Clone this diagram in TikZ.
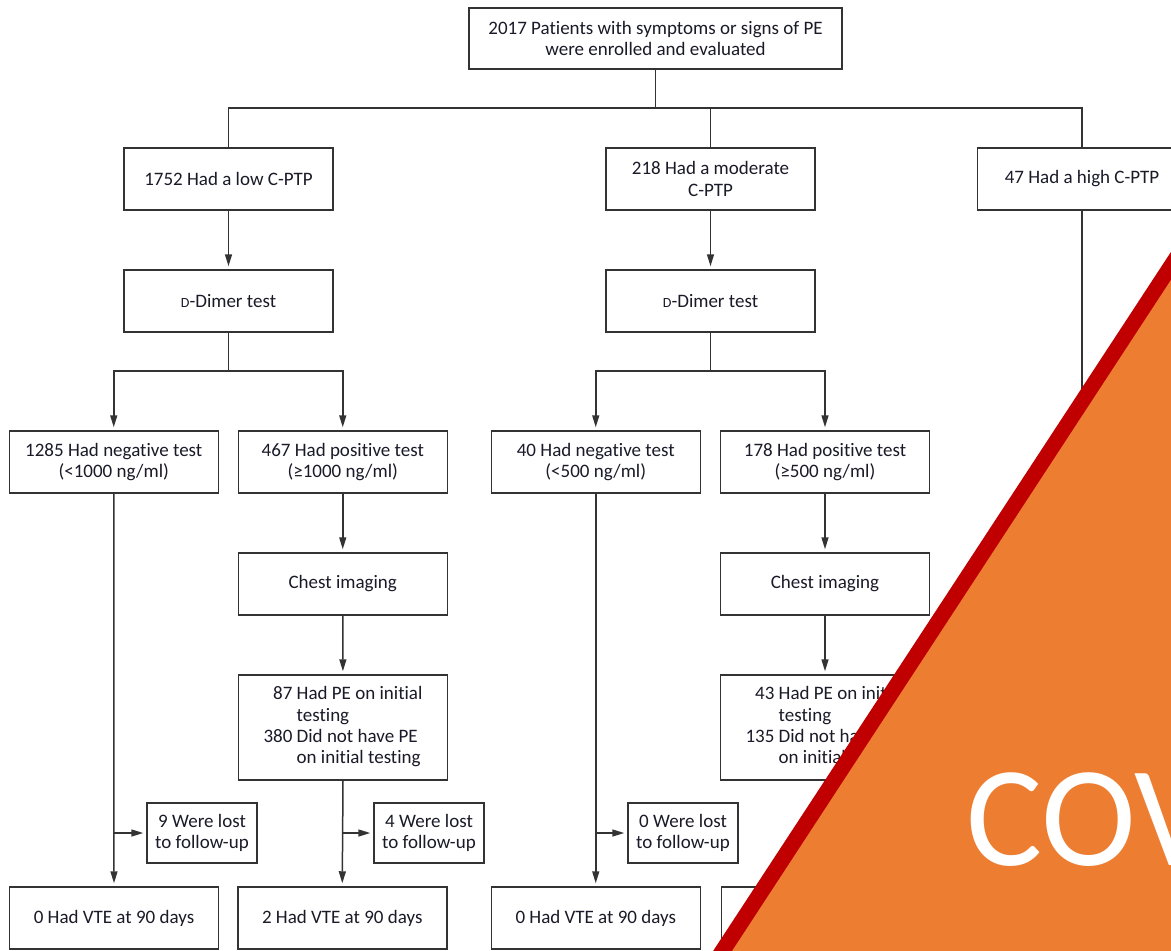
\documentclass[tikz,border=0pt]{standalone}
\usepackage{fontspec}
\newfontfamily\carlito[Ligatures=NoCommon]{Carlito}
\usetikzlibrary{arrows.meta}
\definecolor{ink}{HTML}{1A1A28}
\definecolor{rule}{HTML}{333333}
\definecolor{bandred}{HTML}{C00000}
\definecolor{coverorange}{HTML}{ED7D31}
\newcommand{\smD}{{\fontsize{14}{14}\selectfont D}}
\begin{document}
\begin{tikzpicture}[x=1pt,y=-1pt,
  box/.style={draw=rule, line width=1.5pt, fill=white, inner sep=0pt,
    minimum height=62pt, align=center, text=ink,
    font=\carlito\fontsize{19}{21.3}\selectfont},
  wide/.style={minimum width=209pt},
  lostbox/.style={box, minimum width=110pt, minimum height=60pt},
  link/.style={draw=rule, line width=1.5pt},
  arr/.style={link, -{Triangle[length=12pt,width=7pt]}, shorten >=3pt}
]
\useasboundingbox (0,0) rectangle (1171,951);
\clip (0,0) rectangle (1171,951);

% ---- boxes ----
\node[box, minimum width=373pt, minimum height=61pt] (top) at (655.5,38.5)
  {2017 Patients with symptoms or signs of PE\\were enrolled and evaluated};

\node[box, wide] (low)  at (228.5,179) {1752 Had a low C-PTP};
\node[box, wide] (mod)  at (710.5,179) {218 Had a moderate\\C-PTP};
\node[box, wide] (high) at (1082,179)  {47 Had a high C-PTP};

\node[box, wide] (dda) at (228.5,301) {\smD-Dimer test};
\node[box, wide] (ddb) at (710.5,301) {\smD-Dimer test};

\node[box, wide] (nega) at (113.75,462) {1285 Had negative test\\(<1000 ng/ml)};
\node[box, wide] (posa) at (342.75,462) {467 Had positive test\\(≥1000 ng/ml)};
\node[box, wide] (negb) at (595.75,462) {40 Had negative test\\(<500 ng/ml)};
\node[box, wide] (posb) at (825,462)    {178 Had positive test\\(≥500 ng/ml)};

\node[box, wide] (cia) at (342.75,584) {Chest imaging};
\node[box, wide] (cib) at (825,584)    {Chest imaging};

\node[box, wide, minimum height=105pt] (pea) at (343,727.5)
  {\begin{tabular}{@{}r@{ }l@{}}87 & Had PE on initial\\ & testing\\380 & Did not have PE\\ & on initial testing\end{tabular}};
\node[box, wide, minimum height=105pt] (peb) at (825,727.5)
  {\begin{tabular}{@{}r@{ }l@{}}43 & Had PE on initial\\ & testing\\135 & Did not have PE\\ & on initial testing\end{tabular}};

\node[lostbox] (losta) at (202,833) {9 Were lost\\to follow-up};
\node[lostbox] (lostb) at (429,833) {4 Were lost\\to follow-up};
\node[lostbox] (lostc) at (683,833) {0 Were lost\\to follow-up};

\node[box, wide] (vtea) at (114,918)    {0 Had VTE at 90 days};
\node[box, wide] (vteb) at (342.25,918) {2 Had VTE at 90 days};
\node[box, wide] (vtec) at (595.75,918) {0 Had VTE at 90 days};
\node[box, wide] (vted) at (826,918)    {};

% ---- connectors ----
\coordinate (bus) at (229,108);
\draw[link] (top.south) -- (top.south |- bus);
\draw[link] (low.north) -- (low.north |- bus) -- (high.north |- bus) -- (high.north);
\draw[link] (mod.north) -- (mod.north |- bus);

\draw[arr] (low) -- (dda);
\draw[arr] (mod) -- (ddb);

\coordinate (busa) at (229,371);
\draw[link] (dda.south) -- (dda.south |- busa);
\draw[arr] (nega.north |- busa) -- (posa.north |- busa) -- (posa.north);
\draw[arr] (posa.north |- busa) -- (nega.north |- busa) -- (nega.north);

\coordinate (busb) at (710,371);
\draw[link] (ddb.south) -- (ddb.south |- busb);
\draw[arr] (negb.north |- busb) -- (posb.north |- busb) -- (posb.north);
\draw[arr] (posb.north |- busb) -- (negb.north |- busb) -- (negb.north);

\draw[arr] (posa) -- (cia);
\draw[arr] (cia) -- (pea);
\draw[arr] (posb) -- (cib);
\draw[arr] (cib) -- (peb);

\draw[arr] (nega.south) -- (vtea.north);
\draw[arr] (nega.south |- losta) -- (losta.west);
\draw[arr] (pea.south) -- (vteb.north);
\draw[arr] (pea.south |- lostb) -- (lostb.west);
\draw[arr] (negb.south) -- (vtec.north);
\draw[arr] (negb.south |- lostc) -- (lostc.west);
\draw[arr] (peb.south) -- (vted.north);

\coordinate (highend) at (1082,431);
\draw[arr] (high.south) -- (highend);

% ---- corner banner ----
\fill[bandred] (700,971) -- (1184,232) -- (1200,232) -- (1200,971) -- cycle;
\fill[coverorange] (719,971) -- (1184,260) -- (1200,260) -- (1200,971) -- cycle;
\node[anchor=base west, inner sep=0pt, text=white,
  font=\carlito\fontsize{143}{143}\selectfont] (cov) at (966,865) {COV};
\end{tikzpicture}
\end{document}
